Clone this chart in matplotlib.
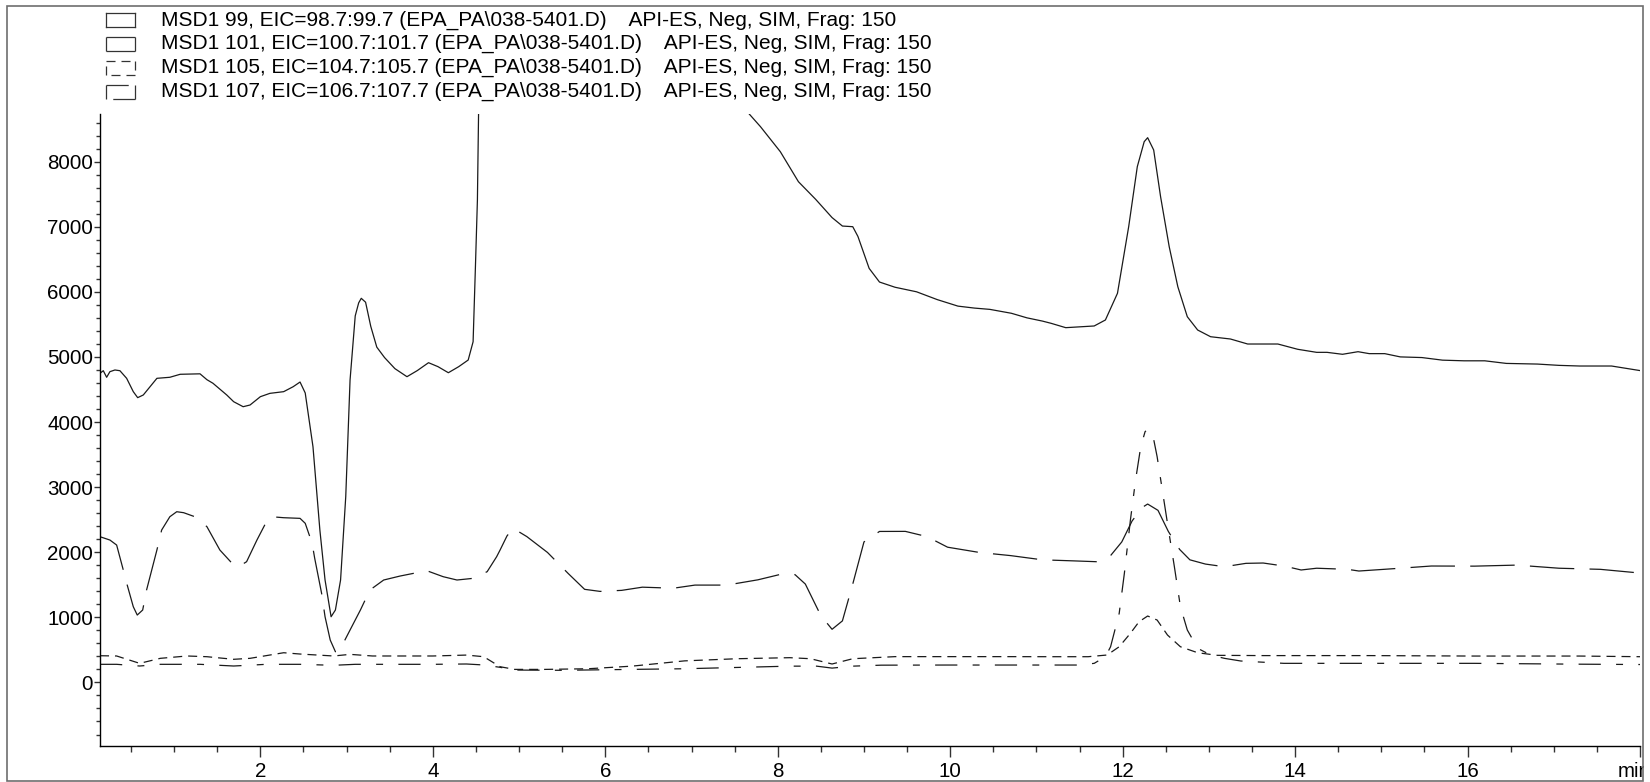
import matplotlib
matplotlib.use("Agg")
import matplotlib.pyplot as plt
from matplotlib.lines import Line2D
from matplotlib.patches import Rectangle
from matplotlib.ticker import MultipleLocator, FixedLocator
from matplotlib.transforms import ScaledTranslation

plt.rcParams['font.family'] = ['Liberation Sans', 'DejaVu Sans']
plt.rcParams['font.size'] = 14.8
plt.rcParams['lines.scale_dashes'] = False

W, H = 1650, 782

# EIC traces, retention time (min) vs abundance
t99 = [0.14, 0.178, 0.217, 0.255, 0.313, 0.371, 0.449, 0.526, 0.577, 0.642,
       0.80, 0.95, 1.07, 1.30, 1.38, 1.45, 1.61, 1.69, 1.80, 1.88,
       2.00, 2.11, 2.27, 2.38, 2.46, 2.52, 2.61, 2.69, 2.75, 2.82,
       2.87, 2.93, 2.99, 3.04, 3.10, 3.14, 3.17, 3.22, 3.28, 3.35,
       3.44, 3.56, 3.70, 3.82, 3.95, 4.06, 4.18, 4.30, 4.41, 4.467,
       4.494, 4.517, 4.532, 4.60, 7.55, 7.67, 7.80, 8.03, 8.24, 8.44,
       8.63, 8.75, 8.87, 8.93, 9.06, 9.18, 9.36, 9.61, 9.85, 10.09,
       10.28, 10.46, 10.71, 10.89, 11.07, 11.17, 11.34, 11.67, 11.80, 11.94,
       12.07, 12.17, 12.25, 12.29, 12.36, 12.44, 12.54, 12.64, 12.75, 12.87,
       13.02, 13.25, 13.45, 13.80, 14.03, 14.25, 14.37, 14.55, 14.73, 14.86,
       15.04, 15.22, 15.47, 15.71, 15.96, 16.20, 16.45, 16.81, 17.06, 17.30,
       17.67, 18.0]
v99 = [4748, 4788, 4687, 4773, 4799, 4788, 4671, 4466, 4374, 4415,
       4671, 4687, 4733, 4740, 4650, 4595, 4415, 4312, 4235, 4261,
       4389, 4440, 4466, 4542, 4614, 4446, 3620, 2340, 1573, 1009,
       1112, 1573, 2853, 4645, 5630, 5830, 5900, 5840, 5470, 5150,
       4990, 4820, 4696, 4790, 4911, 4850, 4757, 4850, 4952, 5233,
       6386, 7410, 8900, 12000, 8950, 8730, 8536, 8152, 7691, 7420,
       7140, 7010, 7000, 6850, 6360, 6150, 6070, 6000, 5880, 5780,
       5750, 5730, 5670, 5600, 5550, 5516, 5449, 5475, 5567, 5977,
       7000, 7922, 8306, 8367, 8178, 7461, 6693, 6078, 5617, 5413,
       5310, 5275, 5198, 5198, 5117, 5070, 5070, 5040, 5080, 5050,
       5050, 5000, 4990, 4950, 4940, 4940, 4900, 4890, 4870, 4860,
       4860, 4790]

t101 = [0.14, 0.255, 0.333, 0.41, 0.45, 0.526, 0.572, 0.635, 0.68, 0.80,
        0.855, 0.95, 1.03, 1.11, 1.24, 1.38, 1.53, 1.69, 1.75, 1.84,
        1.96, 2.07, 2.13, 2.27, 2.46, 2.52, 2.60, 2.63, 2.71, 2.75,
        2.81, 2.87, 2.90, 2.94, 3.04, 3.16, 3.27, 3.43, 3.62, 3.93,
        4.12, 4.28, 4.47, 4.63, 4.74, 4.78, 4.86, 4.93, 5.09, 5.33,
        5.57, 5.76, 5.94, 6.19, 6.43, 6.79, 7.04, 7.41, 7.77, 8.02,
        8.20, 8.32, 8.50, 8.63, 8.75, 8.87, 9.00, 9.18, 9.48, 9.73,
        9.97, 10.34, 10.70, 11.07, 11.43, 11.70, 11.86, 11.99, 12.11, 12.23,
        12.29, 12.41, 12.53, 12.66, 12.78, 12.96, 13.18, 13.43, 13.63, 13.88,
        14.07, 14.25, 14.61, 14.74, 15.22, 15.58, 16.08, 16.57, 17.06, 17.54,
        18.0]
v101 = [2238, 2187, 2110, 1727, 1522, 1163, 1035, 1112, 1419, 2034,
        2341, 2545, 2622, 2607, 2545, 2392, 2034, 1803, 1780, 1854,
        2187, 2468, 2545, 2530, 2520, 2444, 2137, 1906, 1369, 1009,
        651, 472, 472, 548, 805, 1112, 1419, 1573, 1634, 1716,
        1624, 1573, 1599, 1701, 1931, 2034, 2250, 2368, 2240, 1996,
        1673, 1430, 1398, 1414, 1463, 1447, 1495, 1495, 1576, 1656,
        1656, 1511, 1026, 816, 945, 1511, 2158, 2319, 2320, 2240,
        2077, 1996, 1948, 1883, 1867, 1854, 1948, 2158, 2481, 2690,
        2740, 2643, 2319, 2044, 1883, 1818, 1777, 1829, 1834, 1786,
        1727, 1754, 1737, 1711, 1754, 1788, 1786, 1802, 1754, 1737,
        1680]

t105 = [0.14, 0.333, 0.60, 0.84, 1.15, 1.38, 1.69, 1.88, 2.27, 2.46,
        2.85, 3.04, 3.30, 3.62, 4.00, 4.39, 4.59, 4.78, 4.95, 5.30,
        5.80, 6.31, 6.92, 7.53, 8.14, 8.38, 8.63, 8.87, 9.36, 9.97,
        10.60, 11.17, 11.60, 11.82, 11.96, 12.09, 12.19, 12.29, 12.40, 12.52,
        12.67, 12.87, 13.10, 13.63, 14.86, 16.08, 17.30, 18.0]
v105 = [410, 406, 293, 370, 406, 395, 355, 370, 456, 436,
        406, 431, 406, 406, 406, 420, 395, 241, 200, 200,
        210, 250, 331, 364, 380, 364, 283, 364, 396, 396,
        396, 395, 395, 421, 548, 754, 932, 1020, 958, 728,
        548, 456, 416, 412, 412, 405, 405, 395]

t107 = [0.14, 0.333, 0.60, 0.84, 1.30, 1.69, 2.07, 2.46, 2.85, 3.10,
        3.62, 4.00, 4.39, 4.59, 4.78, 4.95, 5.50, 6.30, 6.92, 7.53,
        8.14, 8.45, 8.63, 8.87, 9.20, 9.97, 10.60, 11.17, 11.50, 11.67,
        11.80, 11.86, 11.96, 12.02, 12.09, 12.15, 12.21, 12.26, 12.29, 12.35,
        12.40, 12.46, 12.52, 12.60, 12.67, 12.75, 12.87, 13.02, 13.18, 13.37,
        13.87, 14.86, 16.08, 17.30, 18.0]
v107 = [278, 278, 252, 278, 278, 252, 278, 278, 263, 278,
        278, 278, 283, 268, 232, 190, 186, 200, 210, 230,
        250, 250, 220, 250, 265, 267, 267, 267, 267, 293,
        395, 548, 1061, 1675, 2494, 3109, 3621, 3851, 3888, 3800,
        3467, 2955, 2443, 1777, 1163, 805, 524, 421, 370, 329,
        293, 293, 293, 280, 275]

legend_labels = [
    r"MSD1 99, EIC=98.7:99.7 (EPA_PA\038-5401.D)    API-ES, Neg, SIM, Frag: 150",
    r"MSD1 101, EIC=100.7:101.7 (EPA_PA\038-5401.D)    API-ES, Neg, SIM, Frag: 150",
    r"MSD1 105, EIC=104.7:105.7 (EPA_PA\038-5401.D)    API-ES, Neg, SIM, Frag: 150",
    r"MSD1 107, EIC=106.7:107.7 (EPA_PA\038-5401.D)    API-ES, Neg, SIM, Frag: 150",
]

# dash patterns in points (None = solid)
styles = [None, (32, 11), (6.5, 4.3), (16, 11, 5, 11)]
ink = '#1a1a1a'


def px(x, y):
    return x / W, 1 - y / H


fig = plt.figure(figsize=(W / 100, H / 100), dpi=100)
ax = fig.add_axes([100 / W, 36.3 / H, 1540 / W, 631.7 / H])

series = [(t99, v99), (t101, v101), (t105, v105), (t107, v107)]
for (t, v), d in zip(series, styles):
    ln, = ax.plot(t, v, color=ink, lw=0.9)
    if d:
        ln.set_dashes(d)

ax.set_xlim(0.14, 18.0)
ax.set_ylim(-972, 8731)

ax.xaxis.set_major_locator(FixedLocator([2, 4, 6, 8, 10, 12, 14, 16, 18]))
ax.set_xticklabels(['2', '4', '6', '8', '10', '12', '14', '16', 'min'])
ax.xaxis.set_minor_locator(MultipleLocator(0.5))
ax.yaxis.set_major_locator(FixedLocator([0, 1000, 2000, 3000, 4000, 5000, 6000, 7000, 8000]))
ax.yaxis.set_minor_locator(MultipleLocator(200))

ax.tick_params(axis='x', which='major', length=8, width=1, pad=4, color='#333333')
ax.tick_params(axis='x', which='minor', length=4.2, width=1, color='#333333')
ax.tick_params(axis='y', which='major', length=4.5, width=1, pad=0.5, color='#333333')
ax.tick_params(axis='y', which='minor', length=3, width=1, color='#333333')

# the unit label sits under the last tick, nudged left
min_label = ax.get_xticklabels()[-1]
min_label.set_transform(min_label.get_transform() +
                        ScaledTranslation(-6 / 100, 0, fig.dpi_scale_trans))

for s in ['top', 'right']:
    ax.spines[s].set_visible(False)
for s in ['left', 'bottom']:
    ax.spines[s].set_linewidth(1.0)
    ax.spines[s].set_color('black')

# legend rows: sample box + label text
row_y = [20, 43.5, 67.5, 91.5]
for y, d, label in zip(row_y, styles, legend_labels):
    x0, x1 = 106, 135
    y0, y1 = y - 7, y + 7
    edges = [((x0, x1), (y0, y0)), ((x1, x1), (y0, y1)),
             ((x1, x0), (y1, y1)), ((x0, x0), (y1, y0))]
    for xs, ys in edges:
        a = px(xs[0], ys[0])
        b = px(xs[1], ys[1])
        edge = Line2D([a[0], b[0]], [a[1], b[1]], transform=fig.transFigure,
                      color='#333333', lw=0.9)
        if d:
            edge.set_dashes(d)
        fig.add_artist(edge)
    tx, ty = px(161, y)
    fig.text(tx, ty, label, ha='left', va='center', color='black', fontsize=15.0)

# outer frame; white strip past the right edge trims the last tick label
fig.add_artist(Rectangle(px(1644, 782), 6 / W, 1, transform=fig.transFigure,
                         facecolor='white', edgecolor='none', zorder=10))
fig.add_artist(Rectangle(px(7, 781), 1636 / W, 775.5 / H, transform=fig.transFigure,
                         facecolor='none', edgecolor='#6e6e6e', lw=1.2, zorder=11))

fig.savefig("out.png", dpi=100)
